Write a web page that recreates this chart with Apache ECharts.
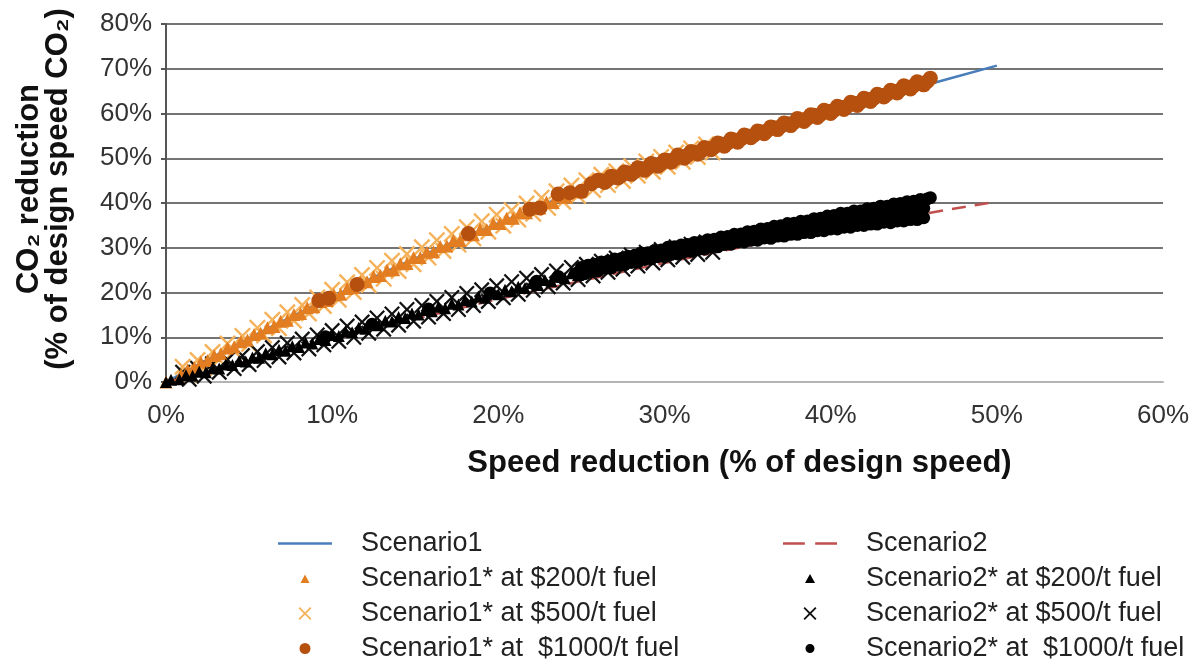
<!DOCTYPE html>
<html>
<head>
<meta charset="utf-8">
<title>CO2 reduction vs speed reduction</title>
<script src="https://cdn.jsdelivr.net/npm/echarts/dist/echarts.min.js"></script>
<style>
	html, body { margin: 0; padding: 0; background: #fff; }
	#chart { width: 1204px; height: 671px; }
</style>
</head>
<body>
<div id="chart"></div>
<script>
// x = speed reduction (%), y = CO2 reduction (%)
var xTicks = [0, 10, 20, 30, 40, 50, 60];
var yTicks = [0, 10, 20, 30, 40, 50, 60, 70, 80];

var seriesNames = [
	'Scenario1', 'Scenario1* at $200/t fuel', 'Scenario1* at $500/t fuel', 'Scenario1* at  $1000/t fuel',
	'Scenario2', 'Scenario2* at $200/t fuel', 'Scenario2* at $500/t fuel', 'Scenario2* at  $1000/t fuel'
];

var scenario1 = [[0, 0], [5, 9.8], [10, 19.0], [15, 27.6], [20, 35.5], [25, 43.0], [30, 49.0], [35, 54.7], [40, 60.2], [45, 65.6], [50, 70.7]];
var scenario2 = [[0, 0], [5, 4.8], [10, 9.5], [15, 14.1], [20, 18.5], [25, 22.6], [30, 26.6], [35, 30.4], [40, 33.9], [45, 37.2], [50, 40.3]];

var s1Fuel200 = [[0, 0], [0.9, 1.6], [1.3, 2.7], [1.7, 3.2], [2.1, 4.4], [2.5, 4.8], [2.9, 5.9], [3.3, 6.3], [3.7, 7.6], [4.1, 7.9],
	[4.5, 9.0], [4.9, 9.4], [5.3, 10.6], [5.7, 10.9], [6.1, 12.1], [6.5, 12.4], [6.9, 13.6], [7.3, 13.8], [7.7, 15.1], [8.1, 15.3],
	[8.5, 16.6], [8.9, 16.8], [9.3, 18.0], [9.7, 18.2], [10.1, 19.5], [10.5, 19.6], [10.9, 20.9], [11.3, 21.1], [11.7, 22.3], [12.1, 22.4],
	[12.5, 23.6], [12.9, 23.8], [13.3, 25.0], [13.7, 25.1], [14.1, 26.4], [14.5, 26.5], [14.9, 27.8], [15.3, 27.8], [15.7, 29.0], [16.1, 29.1],
	[16.5, 30.3], [16.9, 30.4], [17.3, 31.6], [17.7, 31.6], [18.1, 32.9], [18.5, 32.9], [18.9, 34.1], [19.3, 34.1], [19.7, 35.4], [20.1, 35.4],
	[20.5, 36.6], [20.9, 36.6], [21.3, 37.8], [21.7, 37.8], [22.1, 39.0], [22.5, 38.9], [22.9, 40.2], [23.3, 40.1], [23.7, 41.4], [24.1, 41.3],
	[24.5, 42.6], [24.9, 42.5]];

var s1Fuel500 = [[1.0, 3.4], [1.4, 1.6], [1.9, 4.9], [2.3, 3.2], [2.8, 6.7], [3.2, 5.0], [3.7, 8.6], [4.1, 6.9], [4.6, 10.3], [5.0, 8.5],
	[5.5, 12.1], [5.9, 10.4], [6.4, 13.9], [6.8, 12.0], [7.3, 15.6], [7.7, 13.7], [8.2, 17.2], [8.6, 15.3], [9.1, 18.9], [9.5, 17.0],
	[10.0, 20.6], [10.4, 18.4], [10.9, 22.3], [11.3, 20.1], [11.8, 23.9], [12.2, 21.7], [12.7, 25.5], [13.1, 23.1], [13.6, 27.1], [14.0, 24.8],
	[14.5, 28.6], [14.9, 26.3], [15.4, 30.1], [15.8, 27.8], [16.3, 31.7], [16.7, 29.3], [17.2, 33.1], [17.6, 30.7], [18.1, 34.6], [18.5, 32.1],
	[19.0, 35.9], [19.4, 33.6], [19.9, 37.4], [20.3, 34.9], [20.8, 38.4], [21.2, 36.3], [21.7, 39.9], [22.1, 37.6], [22.6, 41.2], [23.0, 38.9],
	[23.5, 42.6], [23.9, 40.3], [24.4, 43.9], [24.8, 41.6], [25.3, 45.1], [25.7, 42.9], [26.2, 46.3], [26.6, 44.0], [27.1, 47.1], [27.5, 44.9],
	[28.0, 48.2], [28.4, 46.1], [28.9, 49.3], [29.3, 47.0], [29.8, 50.3], [30.2, 48.1], [30.7, 51.3], [31.1, 49.2], [31.6, 52.2], [32.0, 50.3],
	[32.5, 53.1], [32.9, 51.3]];

var s1Fuel1000 = [[9.2, 18.2], [9.8, 18.7], [11.5, 21.8], [18.2, 33.2], [21.9, 38.6], [22.5, 38.9], [23.6, 42.0], [24.3, 42.3], [25.0, 42.6], [25.6, 44.3],
	[26.0, 45.1], [26.4, 44.6], [26.8, 46.0], [27.2, 45.6], [27.6, 46.9], [28.0, 46.4], [28.4, 47.9], [28.8, 47.3], [29.2, 48.8], [29.6, 48.2],
	[30.0, 49.6], [30.4, 49.1], [30.8, 50.7], [31.2, 50.0], [31.6, 51.5], [32.0, 50.9], [32.4, 52.4], [32.8, 51.9], [33.2, 53.4], [33.6, 52.7],
	[34.0, 54.3], [34.4, 53.6], [34.8, 55.2], [35.2, 54.6], [35.6, 56.1], [36.0, 55.5], [36.4, 57.0], [36.8, 56.4], [37.2, 57.9], [37.6, 57.3],
	[38.0, 58.9], [38.4, 58.2], [38.8, 59.7], [39.2, 59.1], [39.6, 60.7], [40.0, 60.0], [40.4, 61.6], [40.8, 60.9], [41.2, 62.5], [41.6, 61.8],
	[42.0, 63.4], [42.4, 62.7], [42.8, 64.3], [43.2, 63.7], [43.6, 65.2], [44.0, 64.6], [44.4, 66.2], [44.8, 65.5], [45.2, 67.1], [45.6, 66.4],
	[46.0, 67.9],
	[26.2, 45.0], [26.6, 45.2], [27.0, 45.8], [27.4, 46.1], [27.8, 46.7], [28.2, 47.0], [28.6, 47.7], [29.0, 47.9], [29.4, 48.6], [29.8, 48.8],
	[30.2, 49.5], [30.6, 49.8], [31.0, 50.4], [31.4, 50.7], [31.8, 51.3], [32.2, 51.6], [32.6, 52.2], [33.0, 52.5], [33.4, 53.2], [33.8, 53.4],
	[34.2, 54.1], [34.6, 54.3], [35.0, 55.0], [35.4, 55.2], [35.8, 55.9], [36.2, 56.2], [36.6, 56.8], [37.0, 57.1], [37.4, 57.7], [37.8, 58.0],
	[38.2, 58.6], [38.6, 58.9], [39.0, 59.6], [39.4, 59.8], [39.8, 60.5], [40.2, 60.7], [40.6, 61.4], [41.0, 61.6], [41.4, 62.3], [41.8, 62.5],
	[42.2, 63.2], [42.6, 63.4], [43.0, 64.1], [43.4, 64.3], [43.8, 65.0], [44.2, 65.3], [44.6, 65.9], [45.0, 66.2], [45.4, 66.8], [45.8, 67.1]];

var s2Fuel200 = [[0, 0], [0.3, 0.5], [0.8, 0.6], [1.2, 1.5], [1.6, 1.4], [2.0, 2.3], [2.4, 2.2], [2.8, 3.1], [3.2, 3.0], [3.6, 3.9],
	[4.0, 3.8], [4.4, 4.7], [4.8, 4.6], [5.2, 5.5], [5.6, 5.4], [6.0, 6.4], [6.4, 6.2], [6.8, 7.2], [7.2, 7.0], [7.6, 8.0],
	[8.0, 7.8], [8.4, 8.8], [8.8, 8.6], [9.2, 9.6], [9.6, 9.4], [10.0, 10.5], [10.4, 10.3], [10.8, 11.3], [11.2, 11.1], [11.6, 12.1],
	[12.0, 11.9], [12.4, 12.9], [12.8, 12.7], [13.2, 13.7], [13.6, 13.5], [14.0, 14.5], [14.4, 14.3], [14.8, 15.3], [15.2, 15.1], [15.6, 16.1],
	[16.0, 15.8], [16.4, 16.8], [16.8, 16.5], [17.2, 17.5], [17.6, 17.3], [18.0, 18.3], [18.4, 18.0], [18.8, 19.1], [19.2, 18.8], [19.6, 19.8],
	[20.0, 19.6], [20.4, 20.6], [20.8, 20.3], [21.2, 21.3], [21.6, 21.0], [22.0, 22.1], [22.4, 21.7], [22.8, 22.8], [23.2, 22.5], [23.6, 23.5],
	[24.0, 23.2], [24.4, 24.3], [24.8, 23.9]];

var s2Fuel500 = [[1.0, 2.2], [1.4, 0.6], [1.9, 3.1], [2.3, 1.3], [2.8, 4.1], [3.2, 2.2], [3.7, 5.0], [4.1, 3.0], [4.6, 5.9], [5.0, 3.9],
	[5.5, 6.8], [5.9, 4.8], [6.4, 7.7], [6.8, 5.6], [7.3, 8.7], [7.7, 6.5], [8.2, 9.6], [8.6, 7.4], [9.1, 10.5], [9.5, 8.3],
	[10.0, 11.5], [10.4, 9.1], [10.9, 12.5], [11.3, 10.0], [11.8, 13.4], [12.2, 10.9], [12.7, 14.3], [13.1, 11.8], [13.6, 15.2], [14.0, 12.7],
	[14.5, 16.2], [14.9, 13.6], [15.4, 17.1], [15.8, 14.5], [16.3, 18.0], [16.7, 15.3], [17.2, 18.9], [17.6, 16.2], [18.1, 19.8], [18.5, 17.1],
	[19.0, 20.6], [19.4, 18.0], [19.9, 21.5], [20.3, 18.8], [20.8, 22.4], [21.2, 19.6], [21.7, 23.2], [22.1, 20.5], [22.6, 24.0], [23.0, 21.3],
	[23.5, 24.8], [23.9, 22.1], [24.4, 25.6], [24.8, 22.9], [25.3, 26.3], [25.7, 23.7], [26.2, 27.0], [26.6, 24.5], [27.1, 27.7], [27.5, 25.2],
	[28.0, 28.4], [28.4, 25.9], [28.9, 29.0], [29.3, 26.6], [29.8, 29.6], [30.2, 27.3], [30.7, 30.2], [31.1, 27.9], [31.6, 30.8], [32.0, 28.5],
	[32.5, 31.3], [32.9, 29.0]];

var s2Fuel1000 = [[9.6, 10.1], [12.4, 12.9], [15.8, 16.3], [19.5, 19.9], [22.3, 22.5], [23.6, 23.6], [24.8, 24.5],
	// upper edge of the band
	[25.0, 25.6], [25.4, 26.1], [25.8, 26.3], [26.2, 26.8], [26.6, 27.0], [27.0, 27.5], [27.4, 27.6], [27.8, 28.1], [28.2, 28.3], [28.6, 28.8],
	[29.0, 28.9], [29.4, 29.4], [29.8, 29.5], [30.2, 30.1], [30.6, 30.2], [31.0, 30.6], [31.4, 30.7], [31.8, 31.2], [32.2, 31.3], [32.6, 31.8],
	[33.0, 31.9], [33.4, 32.4], [33.8, 32.5], [34.2, 33.0], [34.6, 33.1], [35.0, 33.6], [35.4, 33.7], [35.8, 34.2], [36.2, 34.3], [36.6, 34.8],
	[37.0, 34.9], [37.4, 35.4], [37.8, 35.5], [38.2, 35.9], [38.6, 36.0], [39.0, 36.5], [39.4, 36.6], [39.8, 37.1], [40.2, 37.2], [40.6, 37.7],
	[41.0, 37.7], [41.4, 38.2], [41.8, 38.2], [42.2, 38.7], [42.6, 38.8], [43.0, 39.3], [43.4, 39.3], [43.8, 39.8], [44.2, 39.9], [44.6, 40.3],
	[45.0, 40.4], [45.4, 40.8], [45.8, 40.9], [46.0, 41.2],
	// lower edge of the band
	[25.2, 24.2], [25.6, 24.7], [26.0, 24.8], [26.4, 25.4], [26.8, 25.5], [27.2, 26.1], [27.6, 26.2], [28.0, 26.7], [28.4, 26.8], [28.8, 27.4],
	[29.2, 27.5], [29.6, 28.0], [30.0, 28.0], [30.4, 28.5], [30.8, 28.6], [31.2, 29.1], [31.6, 29.2], [32.0, 29.6], [32.4, 29.7], [32.8, 30.2],
	[33.2, 30.2], [33.6, 30.7], [34.0, 30.8], [34.4, 31.3], [34.8, 31.3], [35.2, 31.7], [35.6, 31.7], [36.0, 32.2], [36.4, 32.1], [36.8, 32.6],
	[37.2, 32.6], [37.6, 33.0], [38.0, 33.0], [38.4, 33.4], [38.8, 33.4], [39.2, 33.8], [39.6, 33.8], [40.0, 34.2], [40.4, 34.2], [40.8, 34.6],
	[41.2, 34.6], [41.6, 35.0], [42.0, 35.0], [42.4, 35.3], [42.8, 35.3], [43.2, 35.7], [43.6, 35.6], [44.0, 36.0], [44.4, 36.0], [44.8, 36.3],
	[45.2, 36.3], [45.6, 36.7],
	// middle of the band near the end
	[38.1, 34.5], [38.6, 34.9], [39.1, 35.0], [39.6, 35.4], [40.1, 35.6], [40.6, 36.1], [41.1, 36.2], [41.6, 36.6], [42.1, 36.8], [42.6, 37.2],
	[43.1, 37.3], [43.6, 37.8], [44.1, 37.9], [44.6, 38.3], [45.1, 38.4], [45.6, 38.8]];

// marker shapes (the tiny corner bits only set the legend icon box)
var crossPath = 'path://M0,1L1,0L5,4L9,0L10,1L6,5L10,9L9,10L5,6L1,10L0,9L4,5Z';
var iconSolid = 'path://M0,0h54v2.6h-54Z';
var iconDash = 'path://M0,0h21v2.6h-21Z M31,0h21v2.6h-21Z';
var iconTriangle = 'path://M0,0h0.01v0.01Z M6.5,2.5L11,11L2,11Z M13,13h-0.01v-0.01Z';
var iconTriangleBig = 'path://M0,0h0.01v0.01Z M6.5,2L11.5,11L1.5,11Z M13,13h-0.01v-0.01Z';
var iconCircle = 'path://M0,0h0.01v0.01Z M6.5,1A5.5,5.5 0 1,1 6.5,12A5.5,5.5 0 1,1 6.5,1Z M13,13h-0.01v-0.01Z';
var iconDot = 'path://M0,0h0.01v0.01Z M6.5,2A4.5,4.5 0 1,1 6.5,11A4.5,4.5 0 1,1 6.5,2Z M13,13h-0.01v-0.01Z';

var chartDom = document.getElementById('chart');
var myChart = echarts.init(chartDom);

function scatter(name, data, symbol, size, color, z) {
	return {
		name: name,
		type: 'scatter',
		data: data,
		symbol: symbol,
		symbolSize: size,
		itemStyle: { color: color, opacity: 1 },
		z: z
	};
}

var legendBase = {
	orient: 'vertical',
	top: 525,
	itemWidth: 54,
	itemHeight: 13,
	itemGap: 8,
	symbolKeepAspect: true,
	textStyle: { fontSize: 27, color: '#222', padding: [0, 0, 0, 24] }
};

var option = {
	animation: false,
	backgroundColor: '#fff',
	textStyle: { fontFamily: 'Liberation Sans, Arial, sans-serif' },
	grid: { left: 166, right: 41, top: 24, bottom: 289, containLabel: false },
	legend: [
		Object.assign({}, legendBase, {
			left: 273,
			data: [
				{ name: seriesNames[0], icon: iconSolid },
				{ name: seriesNames[1], icon: iconTriangle },
				{ name: seriesNames[2], icon: crossPath },
				{ name: seriesNames[3], icon: iconCircle }
			]
		}),
		Object.assign({}, legendBase, {
			left: 778,
			data: [
				{ name: seriesNames[4], icon: iconDash },
				{ name: seriesNames[5], icon: iconTriangleBig },
				{ name: seriesNames[6], icon: crossPath },
				{ name: seriesNames[7], icon: iconDot }
			]
		})
	],
	xAxis: {
		type: 'value',
		min: xTicks[0],
		max: xTicks[xTicks.length - 1],
		interval: 10,
		name: 'Speed reduction (% of design speed)',
		nameLocation: 'middle',
		nameGap: 66,
		nameTextStyle: { fontSize: 31, fontWeight: 'bold', color: '#111', padding: [0, 0, 0, 150] },
		axisLine: { show: true, lineStyle: { color: '#b4b4b4', width: 2 } },
		axisTick: { show: false },
		splitLine: { show: false },
		axisLabel: { fontSize: 26, color: '#333', margin: 21, formatter: '{value}%' }
	},
	yAxis: {
		type: 'value',
		min: yTicks[0],
		max: yTicks[yTicks.length - 1],
		interval: 10,
		name: 'CO\u2082 reduction\n(% of design speed CO\u2082)',
		nameLocation: 'middle',
		nameGap: 93,
		nameRotate: 90,
		nameTextStyle: { fontSize: 31, fontWeight: 'bold', color: '#111', lineHeight: 29, padding: [0, 0, 0, 28] },
		axisLine: { show: true, lineStyle: { color: '#555', width: 2 } },
		axisTick: { show: true, inside: false, length: 5, lineStyle: { color: '#555', width: 2 } },
		splitLine: { show: true, lineStyle: { color: '#747474', width: 2 } },
		axisLabel: { fontSize: 26, color: '#333', margin: 14, formatter: '{value}%' }
	},
	series: [{
		name: seriesNames[0],
		type: 'line',
		data: scenario1,
		smooth: 0.3,
		symbol: 'none',
		lineStyle: { color: '#4a7ebb', width: 2.5 },
		itemStyle: { color: '#4a7ebb' },
		z: 2
	}, {
		name: seriesNames[4],
		type: 'line',
		data: scenario2,
		smooth: 0.3,
		symbol: 'none',
		lineStyle: { color: '#c0504d', width: 2.5, type: [14, 9] },
		itemStyle: { color: '#c0504d' },
		z: 2
	},
		scatter(seriesNames[2], s1Fuel500, crossPath, 17, '#f5b25a', 3),
		scatter(seriesNames[6], s2Fuel500, crossPath, 16, '#111', 3),
		scatter(seriesNames[1], s1Fuel200, 'triangle', 13, '#e27d22', 4),
		scatter(seriesNames[5], s2Fuel200, 'triangle', 12, '#000', 4),
		scatter(seriesNames[3], s1Fuel1000, 'circle', 15, '#b5500f', 5),
		scatter(seriesNames[7], s2Fuel1000, 'circle', 13, '#000', 5)
	]
};

myChart.setOption(option);
window.addEventListener('resize', function() {
	myChart.resize();
});
</script>
</body>
</html>
